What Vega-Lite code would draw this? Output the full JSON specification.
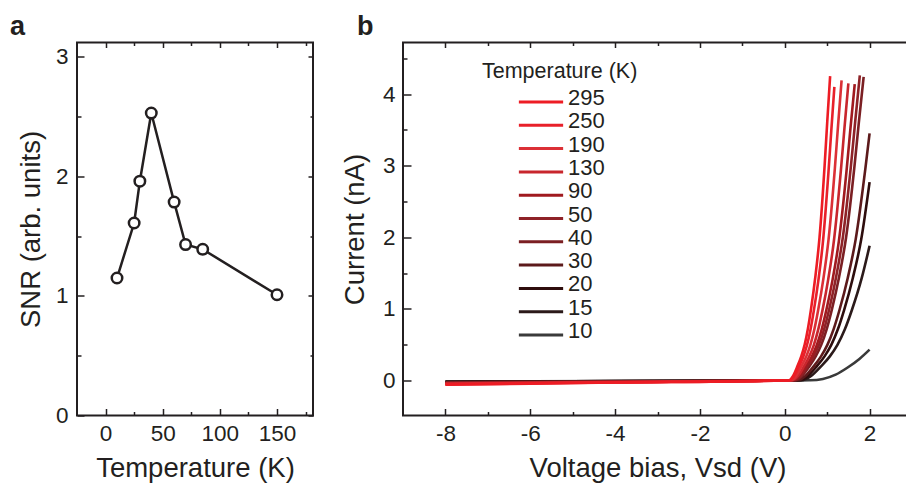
{
"$schema":"https://vega.github.io/schema/vega-lite/v6.json",
"autosize":{"type":"none"},
"padding":{"left":77,"top":42.5,"right":829,"bottom":440.5},
"bounds":"flush",
"spacing":90,
"config":{
 "font":"Liberation Sans",
 "view":{"stroke":"#231f20","strokeWidth":2},
 "axis":{"domain":false,"grid":false,"tickColor":"#231f20","tickWidth":1.5,"labelFontSize":22.5,"labelColor":"#231f20","labelFlush":false,"labelOverlap":false,"titleFontSize":27.5,"titleFontWeight":"normal","titleColor":"#231f20"},
 "legend":{"labelColor":"#231f20","titleColor":"#231f20"}
},
"datasets":{
 "snr":[
  {"T":10,"SNR":1.15},{"T":25,"SNR":1.61},{"T":30,"SNR":1.96},{"T":40,"SNR":2.53},
  {"T":60,"SNR":1.785},{"T":70,"SNR":1.43},{"T":85,"SNR":1.39},{"T":150,"SNR":1.01}
 ],
 "iv":[
  {"T":"10","V":-8,"I":-0.015},{"T":"10","V":-4,"I":-0.008},{"T":"10","V":0,"I":0},{"T":"10","V":0.6,"I":0.002},{"T":"10","V":0.9,"I":0.02},{"T":"10","V":1.2,"I":0.08},{"T":"10","V":1.483,"I":0.18},{"T":"10","V":1.76,"I":0.3},{"T":"10","V":2.0,"I":0.43},
  {"T":"15","V":-8,"I":-0.02},{"T":"15","V":-4,"I":-0.01},{"T":"15","V":0,"I":0},{"T":"15","V":0.4,"I":0.003},{"T":"15","V":0.621,"I":0.063},{"T":"15","V":0.855,"I":0.197},{"T":"15","V":1.063,"I":0.336},{"T":"15","V":1.242,"I":0.496},{"T":"15","V":1.417,"I":0.714},{"T":"15","V":1.585,"I":0.987},{"T":"15","V":1.814,"I":1.428},{"T":"15","V":2.0,"I":1.88},
  {"T":"20","V":-8,"I":-0.02},{"T":"20","V":-4,"I":-0.01},{"T":"20","V":0,"I":0},{"T":"20","V":0.35,"I":0.003},{"T":"20","V":0.546,"I":0.063},{"T":"20","V":0.754,"I":0.197},{"T":"20","V":0.938,"I":0.336},{"T":"20","V":1.097,"I":0.496},{"T":"20","V":1.252,"I":0.714},{"T":"20","V":1.401,"I":0.987},{"T":"20","V":1.604,"I":1.428},{"T":"20","V":1.804,"I":1.974},{"T":"20","V":2.0,"I":2.77},
  {"T":"30","V":-8,"I":-0.025},{"T":"30","V":-4,"I":-0.013},{"T":"30","V":0,"I":0},{"T":"30","V":0.3,"I":0.003},{"T":"30","V":0.485,"I":0.063},{"T":"30","V":0.681,"I":0.197},{"T":"30","V":0.855,"I":0.336},{"T":"30","V":1.005,"I":0.496},{"T":"30","V":1.151,"I":0.714},{"T":"30","V":1.292,"I":0.987},{"T":"30","V":1.484,"I":1.428},{"T":"30","V":1.673,"I":1.974},{"T":"30","V":1.902,"I":2.965},{"T":"30","V":2.0,"I":3.45},
  {"T":"40","V":-8,"I":-0.03},{"T":"40","V":-4,"I":-0.015},{"T":"40","V":0,"I":0},{"T":"40","V":0.25,"I":0.003},{"T":"40","V":0.411,"I":0.064},{"T":"40","V":0.582,"I":0.199},{"T":"40","V":0.733,"I":0.339},{"T":"40","V":0.863,"I":0.5},{"T":"40","V":0.991,"I":0.721},{"T":"40","V":1.113,"I":0.996},{"T":"40","V":1.28,"I":1.442},{"T":"40","V":1.445,"I":1.993},{"T":"40","V":1.644,"I":2.993},{"T":"40","V":1.747,"I":3.604},{"T":"40","V":1.86,"I":4.24},
  {"T":"50","V":-8,"I":-0.035},{"T":"50","V":-4,"I":-0.018},{"T":"50","V":0,"I":0},{"T":"50","V":0.22,"I":0.003},{"T":"50","V":0.375,"I":0.064},{"T":"50","V":0.539,"I":0.2},{"T":"50","V":0.685,"I":0.341},{"T":"50","V":0.811,"I":0.503},{"T":"50","V":0.933,"I":0.724},{"T":"50","V":1.051,"I":1.001},{"T":"50","V":1.212,"I":1.448},{"T":"50","V":1.37,"I":2.002},{"T":"50","V":1.562,"I":3.008},{"T":"50","V":1.662,"I":3.621},{"T":"50","V":1.77,"I":4.26},
  {"T":"90","V":-8,"I":-0.04},{"T":"90","V":-4,"I":-0.02},{"T":"90","V":0,"I":0},{"T":"90","V":0.2,"I":0.003},{"T":"90","V":0.345,"I":0.062},{"T":"90","V":0.499,"I":0.195},{"T":"90","V":0.635,"I":0.331},{"T":"90","V":0.752,"I":0.489},{"T":"90","V":0.867,"I":0.704},{"T":"90","V":0.977,"I":0.973},{"T":"90","V":1.128,"I":1.408},{"T":"90","V":1.276,"I":1.946},{"T":"90","V":1.456,"I":2.923},{"T":"90","V":1.549,"I":3.519},{"T":"90","V":1.65,"I":4.14},
  {"T":"130","V":-8,"I":-0.045},{"T":"130","V":-4,"I":-0.023},{"T":"130","V":0,"I":0},{"T":"130","V":0.18,"I":0.003},{"T":"130","V":0.312,"I":0.062},{"T":"130","V":0.452,"I":0.195},{"T":"130","V":0.576,"I":0.332},{"T":"130","V":0.683,"I":0.49},{"T":"130","V":0.787,"I":0.706},{"T":"130","V":0.888,"I":0.975},{"T":"130","V":1.025,"I":1.411},{"T":"130","V":1.159,"I":1.951},{"T":"130","V":1.323,"I":2.93},{"T":"130","V":1.408,"I":3.528},{"T":"130","V":1.5,"I":4.15},
  {"T":"190","V":-8,"I":-0.05},{"T":"190","V":-4,"I":-0.025},{"T":"190","V":0,"I":0},{"T":"190","V":0.15,"I":0.003},{"T":"190","V":0.269,"I":0.063},{"T":"190","V":0.395,"I":0.197},{"T":"190","V":0.507,"I":0.335},{"T":"190","V":0.603,"I":0.494},{"T":"190","V":0.697,"I":0.712},{"T":"190","V":0.788,"I":0.985},{"T":"190","V":0.912,"I":1.425},{"T":"190","V":1.033,"I":1.969},{"T":"190","V":1.181,"I":2.958},{"T":"190","V":1.257,"I":3.562},{"T":"190","V":1.34,"I":4.19},
  {"T":"250","V":-8,"I":-0.055},{"T":"250","V":-4,"I":-0.028},{"T":"250","V":0,"I":0},{"T":"250","V":0.12,"I":0.003},{"T":"250","V":0.225,"I":0.062},{"T":"250","V":0.336,"I":0.193},{"T":"250","V":0.435,"I":0.328},{"T":"250","V":0.52,"I":0.484},{"T":"250","V":0.603,"I":0.697},{"T":"250","V":0.683,"I":0.964},{"T":"250","V":0.792,"I":1.394},{"T":"250","V":0.899,"I":1.927},{"T":"250","V":1.029,"I":2.895},{"T":"250","V":1.097,"I":3.485},{"T":"250","V":1.17,"I":4.1},
  {"T":"295","V":-8,"I":-0.06},{"T":"295","V":-4,"I":-0.03},{"T":"295","V":0,"I":0},{"T":"295","V":0.1,"I":0.003},{"T":"295","V":0.197,"I":0.064},{"T":"295","V":0.3,"I":0.2},{"T":"295","V":0.391,"I":0.34},{"T":"295","V":0.47,"I":0.502},{"T":"295","V":0.546,"I":0.723},{"T":"295","V":0.62,"I":0.999},{"T":"295","V":0.721,"I":1.445},{"T":"295","V":0.82,"I":1.998},{"T":"295","V":0.94,"I":3.001},{"T":"295","V":1.002,"I":3.613},{"T":"295","V":1.07,"I":4.25}
 ]
},
"hconcat":[
 {
  "width":236,"height":373,
  "data":{"name":"snr"},
  "title":{"text":"a","anchor":"start","frame":"group","dx":-67,"dy":30,"fontSize":27,"fontWeight":"bold","baseline":"alphabetic","offset":10,"color":"#231f20"},
  "layer":[
   {"mark":{"type":"line","color":"#231f20","strokeWidth":2.5},
    "encoding":{
     "x":{"field":"T","type":"quantitative","scale":{"domain":[-25,181.5],"nice":false,"zero":false},
          "axis":{"values":[0,25,50,75,100,125,150,175],"labelExpr":"datum.value % 50 === 0 ? '' + datum.value : ''","title":"Temperature (K)",
                  "tickSize":{"condition":{"test":"datum.value % 50 === 0","value":-7},"value":-4},"labelPadding":14,"titlePadding":6}},
     "y":{"field":"SNR","type":"quantitative","scale":{"domain":[0,3.12],"nice":false},
          "axis":{"values":[0,0.5,1,1.5,2,2.5,3],"labelExpr":"datum.value % 1 === 0 ? '' + datum.value : ''","title":"SNR (arb. units)",
                  "tickSize":{"condition":{"test":"datum.value % 1 === 0","value":-7},"value":-4},"labelPadding":16,"titlePadding":10}}
    }},
   {"mark":{"type":"point","shape":"circle","size":110,"filled":true,"fill":"white","stroke":"#231f20","strokeWidth":2.5,"opacity":1},
    "encoding":{
     "x":{"field":"T","type":"quantitative","axis":{"orient":"top","values":[0,25,50,75,100,125,150,175],"labels":false,"title":null,"tickSize":{"condition":{"test":"datum.value % 50 === 0","value":-5},"value":-3}}},
     "y":{"field":"SNR","type":"quantitative","axis":{"orient":"right","values":[0,0.5,1,1.5,2,2.5,3],"labels":false,"title":null,"tickSize":{"condition":{"test":"datum.value % 1 === 0","value":-5},"value":-3}}}
    }}
  ],
  "resolve":{"axis":{"x":"independent","y":"independent"}}
 },
 {
  "width":509,"height":373,
  "data":{"name":"iv"},
  "title":{"text":"b","anchor":"start","frame":"group","dx":-46,"dy":30,"fontSize":27,"fontWeight":"bold","baseline":"alphabetic","offset":10,"color":"#231f20"},
  "layer":[
   {"mark":{"type":"line","strokeWidth":2.6,"interpolate":"monotone"},
    "encoding":{
     "x":{"field":"V","type":"quantitative","scale":{"domain":[-9,3],"nice":false,"zero":false},
          "axis":{"values":[-8,-7,-6,-5,-4,-3,-2,-1,0,1,2],"labelExpr":"datum.value % 2 === 0 ? '' + datum.value : ''","title":"Voltage bias, Vsd (V)",
                  "tickSize":{"condition":{"test":"datum.value % 2 === 0","value":-7},"value":-4},"labelPadding":14,"titlePadding":6}},
     "y":{"field":"I","type":"quantitative","scale":{"domain":[-0.49,4.72],"nice":false,"zero":false},
          "axis":{"values":[-0.5,0,0.5,1,1.5,2,2.5,3,3.5,4,4.5],"labelExpr":"datum.value % 1 === 0 ? '' + datum.value : ''","title":"Current (nA)",
                  "tickSize":{"condition":{"test":"datum.value % 1 === 0","value":-8},"value":-4},"labelPadding":16,"titlePadding":13}},
     "color":{"field":"T","type":"nominal",
       "scale":{"domain":["295","250","190","130","90","50","40","30","20","15","10"],
                "range":["#ed1c24","#e8202a","#db3036","#c8262d","#a01a1f","#8e2227","#7b1f23","#5c1a1b","#2e0d0d","#2b1a1a","#3a3a3a"]},
       "legend":{"orient":"none","legendX":405,"legendY":18,"title":"Temperature (K)","titleFontSize":21.5,"titleFontWeight":"normal","titlePadding":9.5,"labelFontSize":22,"symbolType":"stroke","symbolSize":1960,"symbolStrokeWidth":3,"clipHeight":21,"rowPadding":-2.7,"labelOffset":3,"symbolOffset":35,"padding":0,
                 "encode":{"labels":{"update":{"dy":{"value":-4}}}}}}
    }},
   {"mark":{"type":"point","opacity":0},
    "encoding":{
     "x":{"field":"V","type":"quantitative","axis":{"orient":"top","values":[-8,-7,-6,-5,-4,-3,-2,-1,0,1,2],"labels":false,"title":null,"tickSize":{"condition":{"test":"datum.value % 2 === 0","value":-5},"value":-3}}},
     "y":{"field":"I","type":"quantitative"}
    }}
  ],
  "resolve":{"axis":{"x":"independent"}}
 }
]
}
